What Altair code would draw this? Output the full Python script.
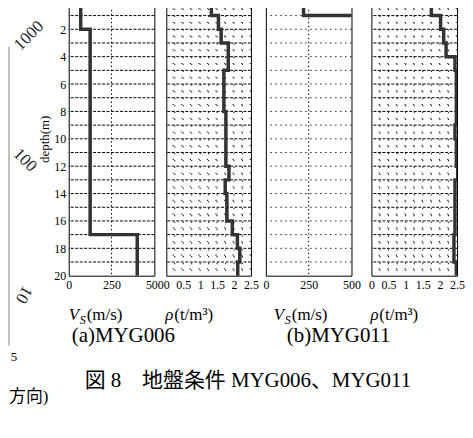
import altair as alt
import pandas as pd
import numpy as np

SERIF = "Liberation Serif"
CJK = "Liberation Serif, Noto Sans CJK JP"

# ---- data ----
# MYG006 shear-wave velocity (layer tops in m, Vs in m/s)
myg006_vs_tops = [0, 2, 17]
myg006_vs_vals = [70, 125, 400]
# MYG006 density (layer tops in m, rho in t/m3)
myg006_rho_tops = [0, 1, 2, 3, 5, 8, 12, 13, 14, 16, 17, 18, 19]
myg006_rho_vals = [1.33, 1.54, 1.62, 1.83, 1.70, 1.76, 1.85, 1.74, 1.79, 1.95, 2.10, 2.17, 2.11]
# MYG011 shear-wave velocity
myg011_vs_tops = [0, 1]
myg011_vs_vals = [220, 600]
# MYG011 density
myg011_rho_tops = [0, 1, 2, 3, 4, 5, 9, 10, 12, 13, 17, 19]
myg011_rho_vals = [1.75, 2.02, 2.11, 2.18, 2.44, 2.48, 2.44, 2.48, 2.52, 2.44, 2.41, 2.48]

vs_ticks = [0, 250, 500]
rho_ticks = [0, 0.5, 1, 1.5, 2, 2.5]
depth_ticks = list(range(0, 21, 2))
MAX_DEPTH = 20

W, H = 86, 275


def profile_df(tops, vals, bottom=MAX_DEPTH):
    rows = [{"i": 0, "v": 0, "d": 0}]
    k = 1
    for j, (t, v) in enumerate(zip(tops, vals)):
        b = tops[j + 1] if j + 1 < len(tops) else bottom
        rows.append({"i": k, "v": v, "d": t}); k += 1
        rows.append({"i": k, "v": v, "d": b}); k += 1
    return pd.DataFrame(rows)


ysc = alt.Scale(domain=[0, MAX_DEPTH], reverse=True, nice=False, zero=False)


def txt(s, x, y, size, style="normal", align="left", baseline="alphabetic",
        angle=None, font=SERIF, color="black"):
    kw = dict(text=s, align=align, baseline=baseline, fontSize=size,
              fontStyle=style, font=font, color=color)
    if angle is not None:
        kw["angle"] = angle
    return alt.Chart(pd.DataFrame({"t": [s]})).mark_text(**kw).encode(
        x=alt.value(x), y=alt.value(y))


def panel(tops, vals, xmax, xticks, fmt, grids, extras, width=W, show_y=False, clip=False):
    xsc = alt.Scale(domain=[0, xmax], nice=False, zero=False)
    xaxis = alt.Axis(values=xticks, format=fmt, title=None)
    if show_y:
        yaxis = alt.Axis(values=depth_ticks, title="depth(m)", titleFontSize=13,
                         titleFont=SERIF, titleFontWeight="normal", titlePadding=2,
                         titleColor="black", labelFontSize=12)
    else:
        yaxis = None
    layers = []
    for g in grids:
        kind, vals_g, dash = g[0], g[1], g[2]
        color = g[3] if len(g) > 3 else "black"
        sw = g[4] if len(g) > 4 else 1
        mk = alt.Chart(pd.DataFrame({"g": vals_g})).mark_rule(
            strokeDash=dash, color=color, strokeWidth=sw)
        if kind == "h":
            layers.append(mk.encode(y=alt.Y("g:Q", scale=ysc, axis=yaxis)))
        else:
            layers.append(mk.encode(x=alt.X("g:Q", scale=xsc, axis=xaxis)))
    line = alt.Chart(profile_df(tops, vals)).mark_line(
        color="#333333", strokeWidth=3.5, clip=clip, strokeJoin="miter"
    ).encode(
        x=alt.X("v:Q", scale=xsc, axis=xaxis),
        y=alt.Y("d:Q", scale=ysc, axis=yaxis),
        order=alt.Order("i:Q"),
    )
    return alt.layer(*layers, line, *extras).properties(width=width, height=H)


def spacer(w):
    return alt.Chart(pd.DataFrame({"a": [0]})).mark_point(opacity=0).encode(
        x=alt.value(0), y=alt.value(0)
    ).properties(width=w, height=H, view=alt.ViewBackground(stroke="transparent"))


whole = list(range(1, MAX_DEPTH))
halves = [d + 0.5 for d in range(0, MAX_DEPTH)]
rho_minor = [round(0.25 * k, 2) for k in range(1, 10)]


def vs_label(dx):
    return [txt("V", dx, H + 44, 17, style="italic"),
            txt("S", dx + 11, H + 49, 12, style="italic"),
            txt("(m/s)", dx + 18, H + 44, 17)]


def rho_label(dx):
    return [txt("ρ", dx, H + 44, 17, style="italic"),
            txt("(t/m³)", dx + 9, H + 44, 17)]


fragment = [
    txt("1000", -40, 34, 17, align="center", baseline="middle", angle=315, color="#222222"),
    txt("100", -44, 159, 17, align="center", baseline="middle", angle=45, color="#222222"),
    txt("10", -45, 294, 17, align="center", baseline="middle", angle=120, color="#222222"),
    txt("5", -55, 357, 13, align="center", baseline="middle"),
    txt("方向)", -60, 402, 17, font=CJK),
    alt.Chart(pd.DataFrame({"a": [0]})).mark_rule(color="#999999", strokeWidth=1.2).encode(
        x=alt.value(-60), y=alt.value(45), y2=alt.value(345)),
]

rho_grids = [("v", rho_minor, [1.3, 5.6], "#222222", 1.1),
             ("h", halves, [1.3, 7.3], "#333333", 1.1),
             ("h", whole, [3, 1.5])]

p1 = panel(
    myg006_vs_tops, myg006_vs_vals, 500, vs_ticks, "d",
    [("h", whole, [3, 1.5]), ("v", [250], [1.5, 2.5])],
    vs_label(0)
    + [txt("(a)MYG006", 3, H + 67, 21),
       txt("図 8　地盤条件 MYG006、MYG011", 16, H + 112, 21, font=CJK)]
    + fragment,
    show_y=True,
)
p2 = panel(
    myg006_rho_tops, myg006_rho_vals, 2.5, rho_ticks, "~g",
    rho_grids, rho_label(-1), width=85,
)
p3 = panel(
    myg011_vs_tops, myg011_vs_vals, 500, vs_ticks, "d",
    [("h", whole, [1.5, 3.5], "#222222"), ("v", [250], [1.5, 2.5])],
    vs_label(8) + [txt("(b)MYG011", 21, H + 67, 21)],
    clip=True,
)
p4 = panel(
    myg011_rho_tops, myg011_rho_vals, 2.5, rho_ticks, "~g",
    rho_grids, rho_label(-1), clip=True,
)

chart = alt.hconcat(
    p1, spacer(12), p2, spacer(15), p3, spacer(20), p4, spacing=0, bounds="flush"
).properties(
    padding={"left": -1, "top": -15, "right": 0, "bottom": 0}
).configure_view(
    stroke="black", strokeWidth=1
).configure_axis(
    labelFont=SERIF, labelFontSize=12, labelColor="black", domain=False,
    ticks=False, grid=False, labelFlush=False, labelOverlap=False,
).configure_axisX(labelPadding=4).configure_axisY(labelPadding=3)

chart.save("out.html", embed_options={"renderer": "svg", "actions": False})
